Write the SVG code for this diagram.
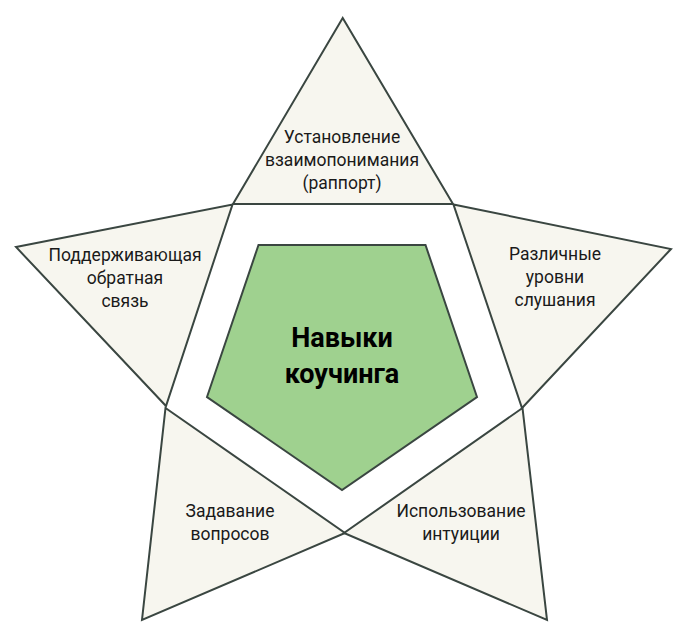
<svg xmlns="http://www.w3.org/2000/svg" width="684" height="641" viewBox="0 0 684 641">
<style>
.tri{fill:#f7f6ef;stroke:#3a4641;stroke-width:2;stroke-linejoin:miter}
.core{fill:#9fd18f;stroke:#3a4641;stroke-width:2}
.lbl{font-family:Roboto,"Liberation Sans",sans-serif;font-size:17.5px;fill:#1a1a1a;text-anchor:middle}
.ttl{font-family:Roboto,"Liberation Sans",sans-serif;font-size:27px;font-weight:bold;fill:#000;text-anchor:middle}
</style>
<rect width="684" height="641" fill="#ffffff"/>
<g id="top">
<polygon class="tri" points="342.7,18 233,204 453,204"/>
<text class="lbl" x="342" y="143">Установление</text>
<text class="lbl" x="342" y="166">взаимопонимания</text>
<text class="lbl" x="342" y="189">(раппорт)</text>
</g>
<g id="left">
<polygon class="tri" points="16,247 232.5,204.5 166,406"/>
<text class="lbl" x="125" y="261">Поддерживающая</text>
<text class="lbl" x="125" y="284">обратная</text>
<text class="lbl" x="125" y="307">связь</text>
</g>
<g id="right">
<polygon class="tri" points="453.5,204.5 671,249 522,408"/>
<text class="lbl" x="555" y="260">Различные</text>
<text class="lbl" x="555" y="283">уровни</text>
<text class="lbl" x="555" y="306">слушания</text>
</g>
<g id="bottom-left">
<polygon class="tri" points="165.5,408 345,533 142,620"/>
<text class="lbl" x="230" y="517">Задавание</text>
<text class="lbl" x="230" y="540">вопросов</text>
</g>
<g id="bottom-right">
<polygon class="tri" points="522.5,408 344,533 547,620"/>
<text class="lbl" x="461" y="517">Использование</text>
<text class="lbl" x="461" y="540">интуиции</text>
</g>
<g id="center">
<polygon class="core" points="258.5,245 425.5,245 477,397 342,490 207,397"/>
<text class="ttl" x="342" y="347">Навыки</text>
<text class="ttl" x="342" y="383">коучинга</text>
</g>
<g id="connectors"/>
</svg>
